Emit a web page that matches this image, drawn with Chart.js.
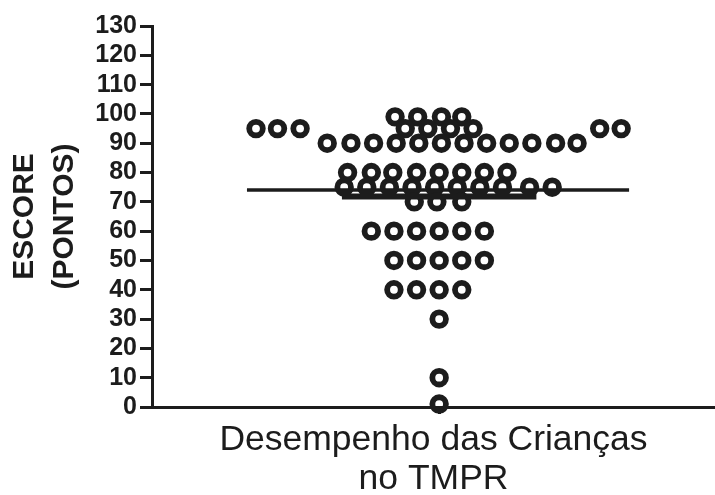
<!DOCTYPE html>
<html>
<head>
<meta charset="utf-8">
<script src="https://cdn.jsdelivr.net/npm/chart.js@4/dist/chart.umd.min.js"></script>
<style>
  html, body { margin: 0; padding: 0; background: #fff; }
  #chart { display: block; }
</style>
</head>
<body>
<canvas id="chart" width="715" height="495"></canvas>
<script>
// score levels (rows of the column scatter) and horizontal spread of each dot
const scoreLevels = [99, 95, 95, 90, 80, 75, 70, 60, 50, 40, 30, 10, 1];
const dotOffsets = [
  [-1.95, -0.95, 0.1, 1.0],
  [-1.5, -0.5, 0.5, 1.5],
  [-8.1, -7.15, -6.15, 7.1, 8.05],
  [-4.95, -3.9, -2.9, -1.9, -0.9, 0.1, 1.1, 2.1, 3.1, 4.1, 5.15, 6.1],
  [-4.05, -3.0, -2.05, -1.0, 0, 1.0, 2.0, 3.0],
  [-4.2, -3.2, -2.2, -1.2, -0.2, 0.8, 1.8, 2.8, 4.0, 5.0],
  [-1.1, -0.1, 1.0],
  [-3, -2, -1, 0, 1, 2],
  [-2, -1, 0, 1, 2],
  [-2, -1, 0, 1],
  [0],
  [0],
  [0]
];
const meanScore = 74;
const meanSpan = [-8.5, 8.4];
const barScore = 71.8;
const barSpan = [-4.3, 4.3];
const yTicks = [0, 10, 20, 30, 40, 50, 60, 70, 80, 90, 100, 110, 120, 130];

const points = [];
scoreLevels.forEach((s, i) => {
  dotOffsets[i].forEach(o => points.push({ x: o, y: s }));
});

const font = "Arial, 'Liberation Sans', sans-serif";
const ink = "#1c1c1c";

new Chart(document.getElementById("chart"), {
  type: "scatter",
  data: {
    datasets: [
      {
        data: points,
        pointRadius: 6.8,
        pointHoverRadius: 6.8,
        borderWidth: 5.8,
        borderColor: ink,
        backgroundColor: "rgba(0,0,0,0)",
        clip: false,
        order: 2
      },
      {
        type: "line",
        data: [{ x: meanSpan[0], y: meanScore }, { x: meanSpan[1], y: meanScore }],
        borderColor: ink,
        borderWidth: 3.5,
        pointRadius: 0,
        order: 1
      },
      {
        type: "line",
        data: [{ x: barSpan[0], y: barScore }, { x: barSpan[1], y: barScore }],
        borderColor: ink,
        borderWidth: 6,
        pointRadius: 0,
        order: 1
      }
    ]
  },
  options: {
    responsive: false,
    animation: false,
    layout: { autoPadding: false, padding: { top: 26, right: 0, left: 0, bottom: 0 } },
    plugins: { legend: { display: false }, tooltip: { enabled: false } },
    scales: {
      x: {
        type: "linear",
        min: -12.7,
        max: 12.2,
        afterBuildTicks: (scale) => { scale.ticks = [{ value: 0 }]; },
        afterFit: (scale) => {
          scale.height = 88;
          scale.paddingLeft = 0;
          scale.paddingRight = 0;
        },
        ticks: { display: false },
        grid: { display: true, drawOnChartArea: false, drawTicks: true, tickLength: 7, color: ink, lineWidth: 3 },
        border: { display: true, color: ink, width: 3 },
        title: {
          display: true,
          text: ["Desempenho das Crianças", "no TMPR"],
          color: ink,
          font: { family: font, size: 35.5, weight: "normal", lineHeight: 1.1 },
          padding: { top: 0, bottom: -4 }
        }
      },
      y: {
        min: 0,
        max: 130,
        afterBuildTicks: (scale) => { scale.ticks = yTicks.map(v => ({ value: v })); },
        afterFit: (scale) => { scale.width = 152; },
        ticks: {
          color: ink,
          autoSkip: false,
          padding: 3,
          font: { family: font, size: 25, weight: "bold" }
        },
        grid: { display: true, drawOnChartArea: false, drawTicks: true, tickLength: 12, color: ink, lineWidth: 3 },
        border: { display: true, color: ink, width: 3 },
        title: {
          display: true,
          text: ["ESCORE", "(PONTOS)"],
          color: ink,
          font: { family: font, size: 30, weight: "bold", lineHeight: 1.33 },
          padding: { top: 5, bottom: 0 }
        }
      }
    }
  }
});
</script>
</body>
</html>
